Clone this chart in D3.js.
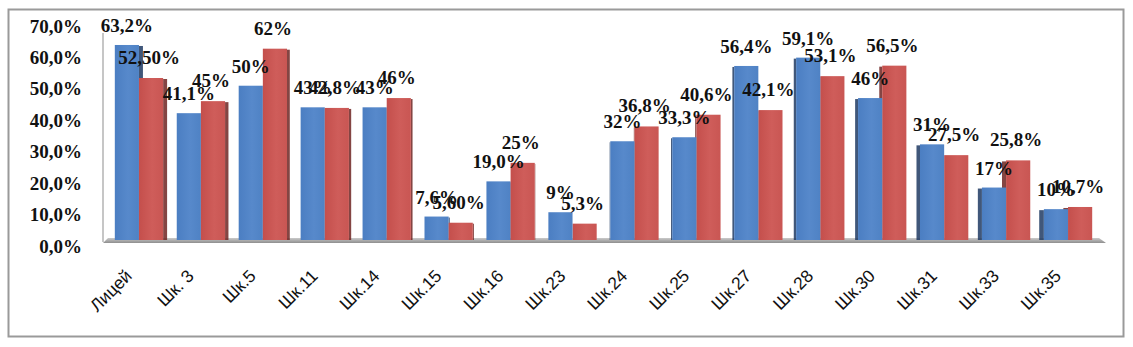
<!DOCTYPE html>
<html>
<head>
<meta charset="utf-8">
<script src="https://cdn.jsdelivr.net/npm/d3@7/dist/d3.min.js"></script>
<style>
  html, body { margin: 0; padding: 0; background: #fff; }
  svg { display: block; }
</style>
</head>
<body>
<svg id="chart" width="1133" height="347"></svg>
<script>
// Schools and the two result series (percent)
const categories = ["Лицей", "Шк. 3", "Шк.5", "Шк.11", "Шк.14", "Шк.15", "Шк.16", "Шк.23",
                    "Шк.24", "Шк.25", "Шк.27", "Шк.28", "Шк.30", "Шк.31", "Шк.33", "Шк.35"];
const blueValues = [63.2, 41.1, 50, 43, 43, 7.6, 19.0, 9, 32, 33.3, 56.4, 59.1, 46, 31, 17, 10];
const redValues  = [52.5, 45, 62, 42.8, 46, 5.6, 25, 5.3, 36.8, 40.6, 42.1, 53.1, 56.5, 27.5, 25.8, 10.7];
const blueLabels = ["63,2%", "41,1%", "50%", "43%", "43%", "7,6%", "19,0%", "9%",
                    "32%", "33,3%", "56,4%", "59,1%", "46%", "31%", "17%", "10%"];
const redLabels  = ["52,50%", "45%", "62%", "42,8%", "46%", "5,60%", "25%", "5,3%",
                    "36,8%", "40,6%", "42,1%", "53,1%", "56,5%", "27,5%", "25,8%", "10,7%"];
const yTicks = [0, 10, 20, 30, 40, 50, 60, 70];

const svg = d3.select("#chart");

// outer frame
svg.append("rect")
  .attr("x", 8.5).attr("y", 9.5).attr("width", 1115).attr("height", 327)
  .attr("fill", "#fff").attr("stroke", "#9a9a9a").attr("stroke-width", 2);

const x0 = d3.scaleBand().domain(categories).range([108, 1099])
  .paddingInner(0.22).paddingOuter(0.11);
const x1 = d3.scaleBand().domain(["blue", "red"]).range([0, x0.bandwidth()]);
const y = d3.scaleLinear().domain([0, 70]).range([240, 24]);
// front-plane scale used by the value axis labels
const yFront = d3.scaleLinear().domain([0, 70]).range([246, 26]);

const defs = svg.append("defs");
function grad(id, c0, c1, c2) {
  const g = defs.append("linearGradient").attr("id", id)
    .attr("x1", "0%").attr("x2", "100%").attr("y1", "0%").attr("y2", "0%");
  g.append("stop").attr("offset", "0%").attr("stop-color", c0);
  g.append("stop").attr("offset", "55%").attr("stop-color", c1);
  g.append("stop").attr("offset", "100%").attr("stop-color", c2);
}
grad("gBlue", "#4b7ec2", "#5789cb", "#4f82c4");
grad("gRed", "#c44f4c", "#cf5d5a", "#c95653");
const floorGrad = defs.append("linearGradient").attr("id", "gFloor")
  .attr("x1", "0%").attr("x2", "0%").attr("y1", "0%").attr("y2", "100%");
floorGrad.append("stop").attr("offset", "0%").attr("stop-color", "#c9c9c9");
floorGrad.append("stop").attr("offset", "100%").attr("stop-color", "#8f8f8f");

// back wall edge and floor
svg.append("line").attr("x1", 103).attr("x2", 103).attr("y1", 33).attr("y2", 242)
  .attr("stroke", "#c6c6c6").attr("stroke-width", 2);
svg.append("polygon")
  .attr("points", [[103, 243], [108, 238], [1099, 238], [1106, 243]].map(p => p.join(",")).join(" "))
  .attr("fill", "url(#gFloor)");

// value axis
const yAxis = d3.axisLeft(yFront).tickValues(yTicks)
  .tickFormat(d => d3.format(".1f")(d).replace(".", ",") + "%")
  .tickSize(0).tickPadding(0);
svg.append("g").attr("transform", "translate(82,0)").call(yAxis)
  .call(g => g.select(".domain").remove())
  .selectAll("text")
  .attr("font-family", "'Liberation Serif', serif").attr("font-weight", "bold")
  .attr("font-size", 19).attr("fill", "#111");

// category axis
const xAxis = d3.axisBottom(x0).tickSize(0).tickPadding(0);
svg.append("g").call(xAxis)
  .call(g => g.select(".domain").remove())
  .selectAll(".tick text")
  .attr("font-family", "'Liberation Sans', Arial, sans-serif")
  .attr("font-size", 17.5).attr("fill", "#111")
  .attr("text-anchor", "end")
  .attr("dy", 0).attr("y", 0).attr("x", 0)
  .attr("transform", "translate(-6,277) rotate(-45)");

// bars with a perspective side face
const center = 566;
const groups = svg.append("g").selectAll("g").data(categories).join("g")
  .attr("transform", d => `translate(${x0(d)},0)`);

groups.each(function (cat, i) {
  const g = d3.select(this);
  const gc = x0(cat) + x0.bandwidth() / 2;
  const side = (center - gc) / 430 * 4; // >0: right face visible, <0: left face
  const bars = [
    { key: "blue", v: blueValues[i], fill: "url(#gBlue)", face: "#1f3a63" },
    { key: "red", v: redValues[i], fill: "url(#gRed)", face: "#6e2422" }
  ];
  const order = side >= 0 ? bars : bars.slice().reverse();
  order.forEach(b => {
    const bx = x1(b.key), bw = x1.bandwidth();
    const fw = Math.abs(side);
    if (fw > 0.5) {
      g.append("rect")
        .attr("x", side > 0 ? bx + bw : bx - fw)
        .attr("y", y(b.v) + 1)
        .attr("width", fw).attr("height", y(0) - y(b.v) - 1)
        .attr("fill", b.face).attr("opacity", 0.85);
    }
    g.append("rect")
      .attr("x", bx).attr("y", y(b.v))
      .attr("width", bw).attr("height", y(0) - y(b.v))
      .attr("fill", b.fill);
  });
});

// data labels
const labelFont = g => g
  .attr("font-family", "'Liberation Serif', serif").attr("font-weight", "bold")
  .attr("font-size", 19).attr("fill", "#111").attr("text-anchor", "middle");

svg.append("g").selectAll("text").data(categories).join("text")
  .attr("x", d => x0(d) + x1("blue") + x1.bandwidth() / 2)
  .attr("y", (d, i) => y(blueValues[i]) - 13)
  .text((d, i) => blueLabels[i]).call(labelFont);
svg.append("g").selectAll("text").data(categories).join("text")
  .attr("x", d => x0(d) + x1("red") + x1.bandwidth() / 2 - 2)
  .attr("y", (d, i) => y(redValues[i]) - 14)
  .text((d, i) => redLabels[i]).call(labelFont);
</script>
</body>
</html>
